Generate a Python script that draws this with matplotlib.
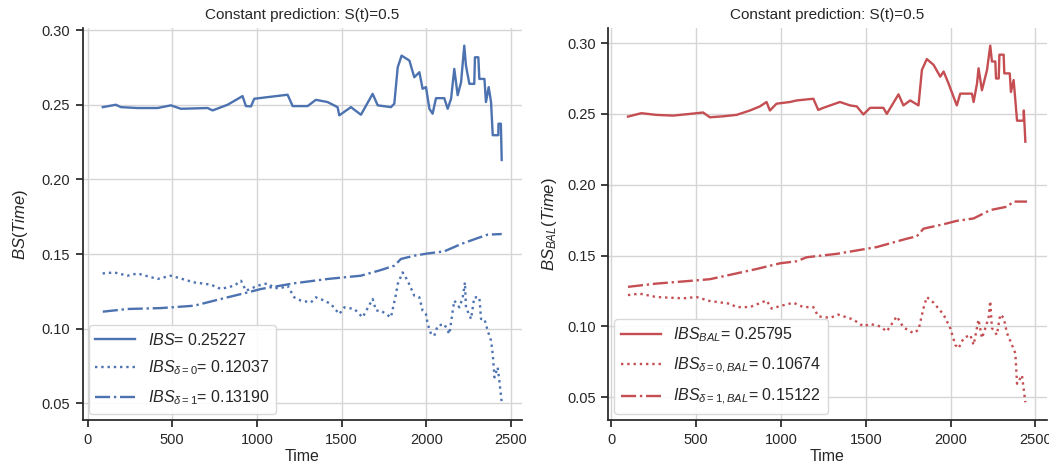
import matplotlib
matplotlib.use("Agg")
import matplotlib.pyplot as plt

# ---------------- data ----------------
title = "Constant prediction: S(t)=0.5"

t_ibs = [90, 167, 197, 295, 413, 492, 551, 709, 738, 827, 915, 935, 965, 984, 1063, 1181, 1211, 1299, 1348,
         1417, 1476, 1486, 1555, 1614, 1683, 1713, 1791, 1811, 1831, 1854, 1900, 1929, 1959, 1978, 1998, 2018,
         2037, 2057, 2106, 2126, 2146, 2165, 2185, 2205, 2224, 2234, 2254, 2283, 2287, 2307, 2313, 2343, 2352,
         2368, 2382, 2392, 2425, 2426, 2440, 2445]
v_ibs = [0.2484, 0.2500, 0.2484, 0.2478, 0.2478, 0.2496, 0.2473, 0.2478, 0.2462, 0.2500, 0.2558, 0.2491,
         0.2489, 0.2540, 0.2551, 0.2567, 0.2491, 0.2491, 0.2533, 0.2518, 0.2484, 0.2429, 0.2484, 0.2433,
         0.2573, 0.2496, 0.2484, 0.2507, 0.2751, 0.2829, 0.2796, 0.2684, 0.2718, 0.2607, 0.2618, 0.2473,
         0.2440, 0.2544, 0.2544, 0.2473, 0.2540, 0.2740, 0.2564, 0.2650, 0.2896, 0.2762, 0.2640, 0.2640,
         0.2818, 0.2818, 0.2673, 0.2673, 0.2518, 0.2618, 0.2518, 0.2296, 0.2296, 0.2373, 0.2373, 0.2130]

t_d0 = [89, 157, 236, 295, 413, 492, 630, 728, 787, 866, 906, 935, 1004, 1063, 1102, 1142, 1181, 1220, 1260,
        1319, 1348, 1398, 1437, 1486, 1516, 1575, 1624, 1683, 1703, 1732, 1762, 1791, 1821, 1831, 1860, 1890,
        1929, 1959, 1978, 1998, 2008, 2028, 2047, 2067, 2106, 2136, 2156, 2165, 2195, 2215, 2228, 2234, 2264,
        2283, 2313, 2323, 2343, 2362, 2382, 2392, 2402, 2421, 2431, 2445]
v_d0 = [0.1370, 0.1377, 0.1355, 0.1370, 0.1333, 0.1355, 0.1310, 0.1295, 0.1266, 0.1288, 0.1321, 0.1254,
        0.1288, 0.1304, 0.1272, 0.1272, 0.1288, 0.1210, 0.1188, 0.1176, 0.1210, 0.1188, 0.1165, 0.1098,
        0.1143, 0.1132, 0.1076, 0.1199, 0.1121, 0.1121, 0.1098, 0.1076, 0.1232, 0.1299, 0.1377, 0.1321,
        0.1221, 0.1210, 0.1121, 0.1098, 0.1031, 0.0964, 0.0953, 0.1020, 0.1031, 0.0964, 0.1121, 0.1188,
        0.1143, 0.1210, 0.1310, 0.1143, 0.1065, 0.1210, 0.1210, 0.1065, 0.1065, 0.0987, 0.0920, 0.0830,
        0.0674, 0.0741, 0.0652, 0.0507]

t_d1 = [90, 236, 433, 630, 787, 945, 1024, 1220, 1417, 1614, 1732, 1811, 1850, 1929, 2008, 2106, 2205, 2303,
        2362, 2445]
v_d1 = [0.1114, 0.1132, 0.1138, 0.1154, 0.1199, 0.1243, 0.1266, 0.1304, 0.1333, 0.1355, 0.1393, 0.1422,
        0.1467, 0.1489, 0.1504, 0.1518, 0.1567, 0.1607, 0.1630, 0.1634]

t_bal = [98, 177, 266, 364, 463, 541, 581, 659, 738, 817, 876, 915, 935, 974, 1053, 1093, 1191, 1220, 1250,
         1348, 1407, 1447, 1486, 1526, 1604, 1624, 1693, 1722, 1762, 1811, 1831, 1860, 1900, 1939, 1959, 1988,
         2018, 2037, 2057, 2126, 2136, 2156, 2165, 2185, 2215, 2234, 2244, 2264, 2268, 2284, 2288, 2313, 2317,
         2349, 2356, 2372, 2392, 2431, 2432, 2441]
v_bal = [0.2481, 0.2505, 0.2493, 0.2488, 0.2500, 0.2510, 0.2476, 0.2483, 0.2493, 0.2524, 0.2553, 0.2584,
         0.2524, 0.2572, 0.2584, 0.2595, 0.2607, 0.2528, 0.2543, 0.2584, 0.2560, 0.2553, 0.2496, 0.2543,
         0.2543, 0.2500, 0.2638, 0.2560, 0.2595, 0.2560, 0.2810, 0.2887, 0.2846, 0.2763, 0.2799, 0.2715,
         0.2619, 0.2560, 0.2643, 0.2643, 0.2584, 0.2715, 0.2822, 0.2667, 0.2810, 0.2982, 0.2870, 0.2870,
         0.2750, 0.2750, 0.2918, 0.2918, 0.2786, 0.2786, 0.2655, 0.2739, 0.2452, 0.2452, 0.2524, 0.2304]

t_d0_bal = [98, 167, 266, 423, 502, 581, 699, 738, 817, 915, 945, 994, 1073, 1132, 1191, 1220, 1289, 1339,
            1427, 1486, 1526, 1585, 1624, 1683, 1722, 1781, 1811, 1841, 1860, 1900, 1959, 1998, 2028, 2047,
            2077, 2116, 2136, 2165, 2185, 2205, 2224, 2234, 2244, 2273, 2293, 2313, 2333, 2362, 2382, 2392,
            2421, 2441]
v_d0_bal = [0.1221, 0.1231, 0.1207, 0.1198, 0.1207, 0.1179, 0.1160, 0.1136, 0.1136, 0.1183, 0.1126, 0.1143,
            0.1167, 0.1136, 0.1136, 0.1071, 0.1060, 0.1083, 0.1048, 0.1000, 0.1017, 0.1000, 0.0964, 0.1071,
            0.0993, 0.0952, 0.0976, 0.1131, 0.1207, 0.1167, 0.1083, 0.0988, 0.0869, 0.0845, 0.0917, 0.0940,
            0.0869, 0.1048, 0.0917, 0.0988, 0.1060, 0.1179, 0.0988, 0.0940, 0.1083, 0.1060, 0.0952, 0.0869,
            0.0810, 0.0595, 0.0655, 0.0464]

t_d1_bal = [98, 266, 463, 581, 719, 856, 994, 1093, 1152, 1329, 1447, 1565, 1742, 1801, 1841, 1959, 2037,
            2136, 2234, 2333, 2372, 2451]
v_d1_bal = [0.1279, 0.1302, 0.1321, 0.1333, 0.1369, 0.1405, 0.1445, 0.1460, 0.1488, 0.1512, 0.1536, 0.1560,
            0.1619, 0.1636, 0.1690, 0.1721, 0.1745, 0.1762, 0.1821, 0.1845, 0.1881, 0.1881]

labels_left = [r"$IBS$= 0.25227", r"$IBS_{\delta=0}$= 0.12037", r"$IBS_{\delta=1}$= 0.13190"]
labels_right = [r"$IBS_{BAL}$= 0.25795", r"$IBS_{\delta=0,BAL}$= 0.10674", r"$IBS_{\delta=1,BAL}$= 0.15122"]
xticks = [0, 500, 1000, 1500, 2000, 2500]

# ---------------- style ----------------
dark = "#262626"
plt.rcParams.update({
    "font.family": ["Liberation Sans", "DejaVu Sans"],
    "mathtext.fontset": "custom",
    "mathtext.it": "Liberation Sans:italic",
    "mathtext.rm": "Liberation Sans",
    "mathtext.bf": "Liberation Sans:bold",
    "text.color": dark,
    "axes.labelcolor": dark,
    "xtick.color": dark,
    "ytick.color": dark,
    "axes.edgecolor": dark,
})

blue = "#4C72B0"
red = "#C44E52"

fig = plt.figure(figsize=(10.49, 4.71), dpi=100)
ax1 = fig.add_axes([0.0788, 0.108, 0.4185, 0.833])
ax2 = fig.add_axes([0.5796, 0.108, 0.4185, 0.833])

def style(ax):
    ax.grid(True, color="#d5d5d5", linewidth=1.0)
    ax.set_axisbelow(True)
    for s in ["top", "right"]:
        ax.spines[s].set_visible(False)
    for s in ["left", "bottom"]:
        ax.spines[s].set_linewidth(1.25)
    ax.tick_params(direction="out", length=5, width=1.25, labelsize=10.5, pad=4)
    ax.set_xticks(xticks)
    ax.set_xlabel("Time", fontsize=11.5, labelpad=2)
    ax.set_title(title, fontsize=11, pad=6)

lw = 1.7
ax1.plot(t_ibs, v_ibs, color=blue, lw=lw, ls="-", label=labels_left[0])
ax1.plot(t_d0, v_d0, color=blue, lw=lw, ls=":", label=labels_left[1])
ax1.plot(t_d1, v_d1, color=blue, lw=lw, ls="-.", label=labels_left[2])
style(ax1)
ax1.set_ylabel(r"$BS(Time)$", fontsize=12, labelpad=8)

ax2.plot(t_bal, v_bal, color=red, lw=lw, ls="-", label=labels_right[0])
ax2.plot(t_d0_bal, v_d0_bal, color=red, lw=lw, ls=":", label=labels_right[1])
ax2.plot(t_d1_bal, v_d1_bal, color=red, lw=lw, ls="-.", label=labels_right[2])
style(ax2)
ax2.set_ylabel(r"$BS_{BAL}(Time)$", fontsize=12, labelpad=6)

for ax in (ax1, ax2):
    ax.yaxis.set_major_formatter(matplotlib.ticker.FormatStrFormatter("%.2f"))
    ax.legend(loc="lower left", fontsize=11.5, handlelength=2.5, labelspacing=0.7, frameon=True,
              edgecolor="#d5d5d5", fancybox=True, framealpha=0.9, borderaxespad=0.4)

fig.savefig("out.png", dpi=100)
